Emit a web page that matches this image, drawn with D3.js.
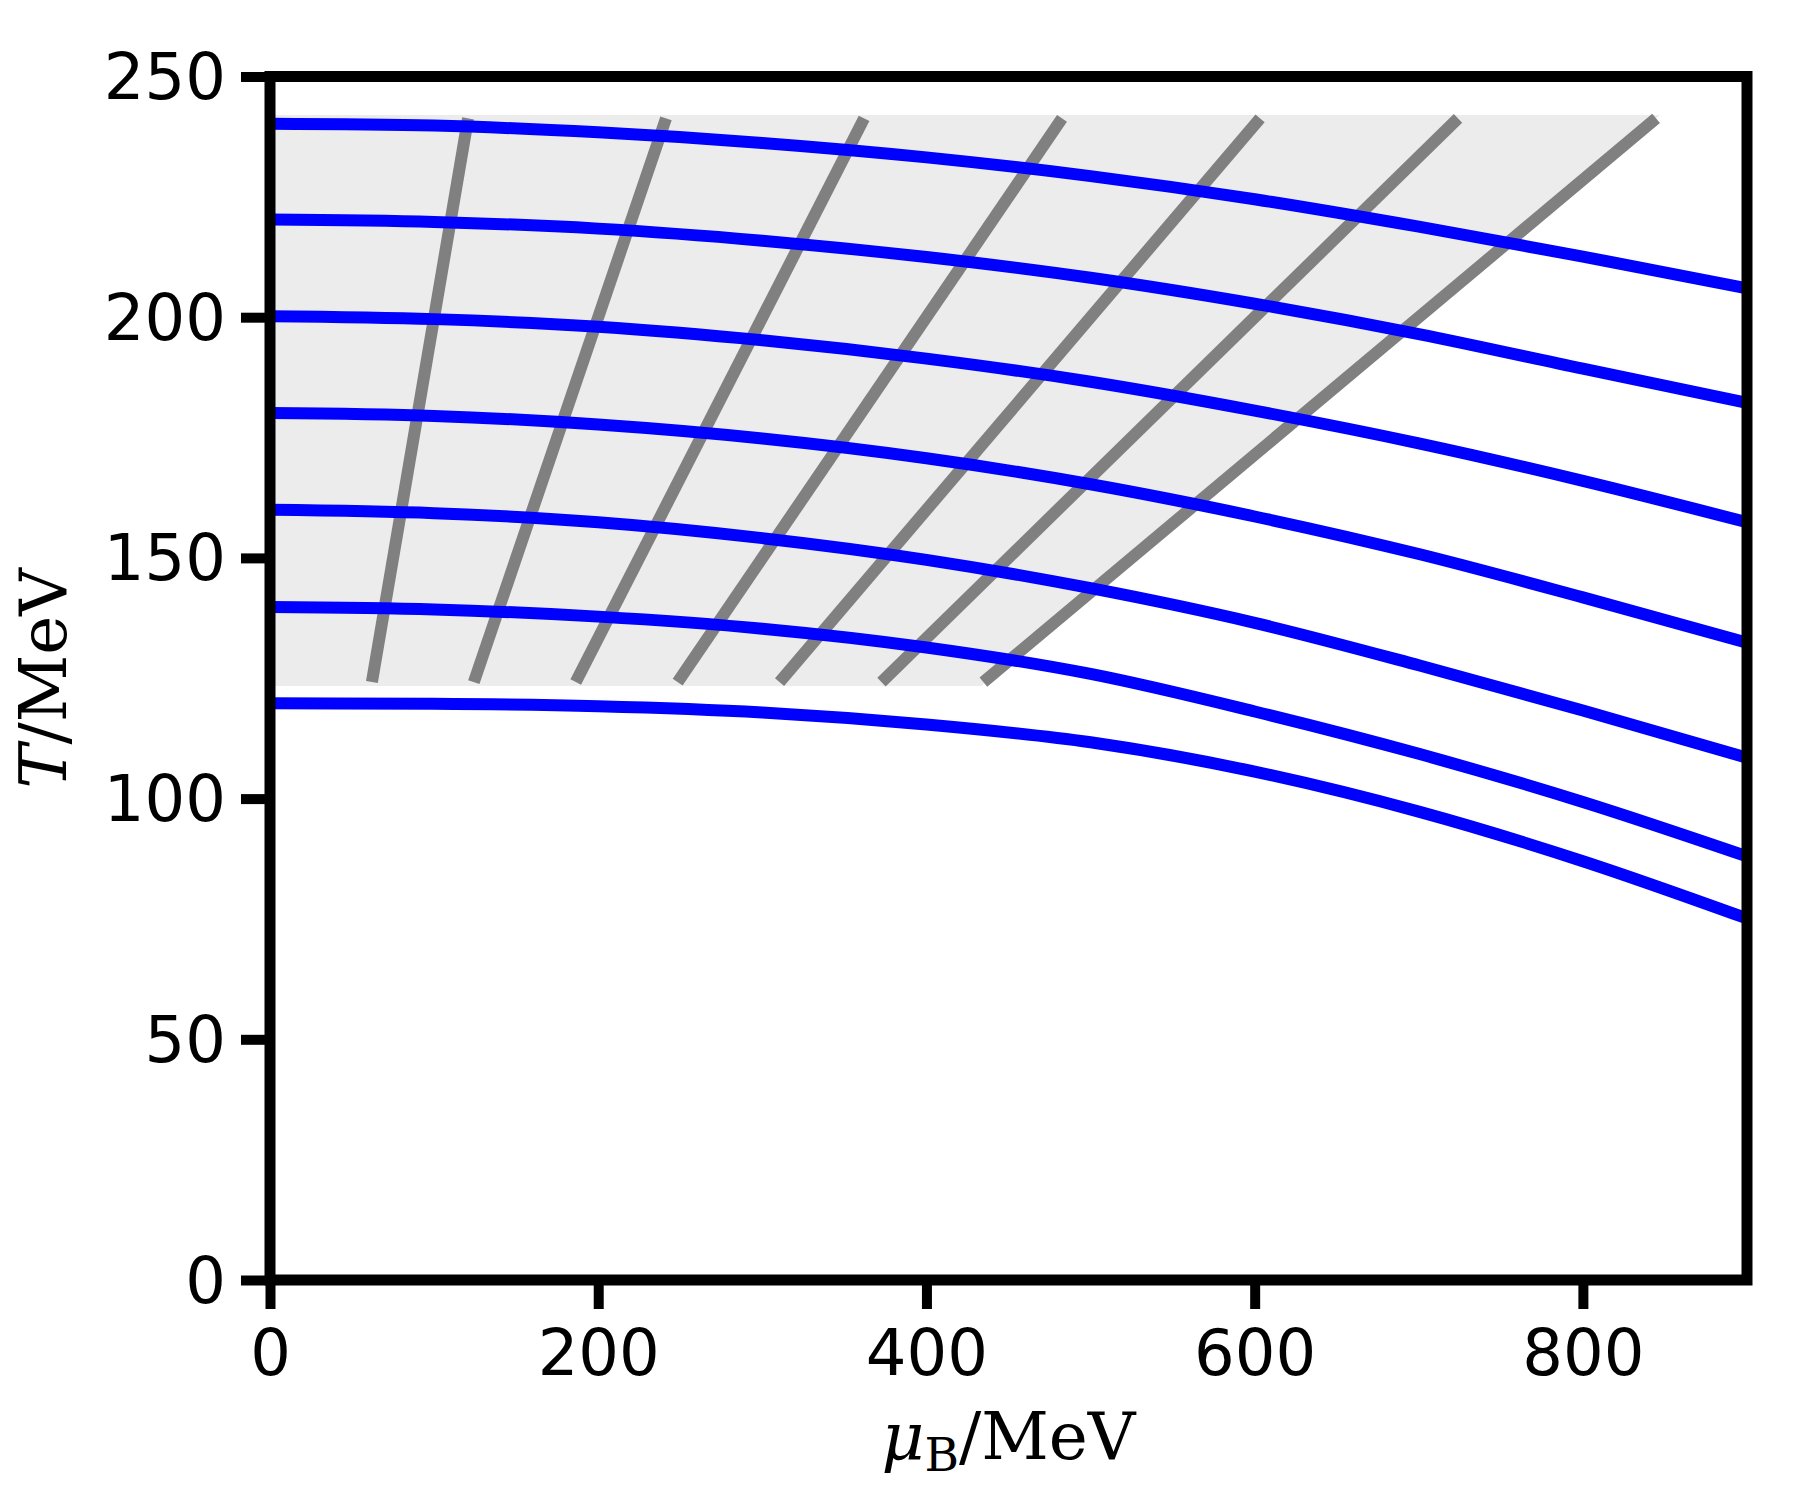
<!DOCTYPE html>
<html><head><meta charset="utf-8">
<script src="https://cdn.jsdelivr.net/npm/d3@7"></script>
<style>body{margin:0;background:#fff}</style>
</head><body>
<svg id="c" width="1800" height="1491" xmlns="http://www.w3.org/2000/svg"></svg>
<script>
// ---- data ----
const muGrid   = [0, 100, 200, 300, 400, 500, 600, 700, 800, 900];
const curveT240 = [240.2, 239.8, 238.4, 236.2, 233.2, 229.3, 224.5, 218.8, 212.6, 206.0];
const curveT220 = [220.3, 219.8, 218.4, 215.9, 212.5, 208.2, 202.8, 196.5, 189.3, 182.2];
const curveT200 = [200.2, 199.6, 198.0, 195.2, 191.4, 186.6, 180.6, 173.8, 166.0, 157.4];
const curveT180 = [180.1, 179.5, 177.7, 174.8, 170.7, 165.3, 158.6, 150.8, 141.8, 132.4];
const curveT160 = [160.0, 159.3, 157.4, 154.1, 149.6, 143.7, 136.5, 127.7, 118.3, 108.5];
const curveT140 = [139.8, 139.3, 137.8, 135.3, 131.4, 125.9, 118.1, 109.3, 99.3, 88.0];
const curveT120 = [119.8, 119.7, 119.2, 117.9, 115.4, 111.7, 105.6, 97.3, 87.0, 75.1];
const blueCurves = [curveT240, curveT220, curveT200, curveT180, curveT160, curveT140, curveT120];

// grey lines: [ [mu_top, T_top], [mu_bottom, T_bottom] ]
const greyLine1 = [[120.7, 241.3], [62.1, 124.2]];
const greyLine2 = [[241.3, 241.3], [124.2, 124.2]];
const greyLine3 = [[362.0, 241.3], [186.3, 124.2]];
const greyLine4 = [[482.6, 241.3], [248.4, 124.2]];
const greyLine5 = [[603.3, 241.3], [310.5, 124.2]];
const greyLine6 = [[723.9, 241.3], [372.6, 124.2]];
const greyLine7 = [[844.6, 241.3], [434.7, 124.2]];
const greyLines = [greyLine1, greyLine2, greyLine3, greyLine4, greyLine5, greyLine6, greyLine7];

// shaded band
const shadePoly = [[0, 242.0], [847.0, 242.0], [433.5, 123.4], [0, 123.4]];

const xTicks = [0, 200, 400, 600, 800];
const yTicks = [0, 50, 100, 150, 200, 250];
const xDomain = [0, 900];
const yDomain = [0, 250];

// ---- layout ----
const L = 270, R = 1747, T = 76.5, B = 1280;
const svg = d3.select('#c');
const x = d3.scaleLinear().domain(xDomain).range([L, R]);
const y = d3.scaleLinear().domain(yDomain).range([B, T]);

svg.append('defs').append('clipPath').attr('id', 'clip')
  .append('rect').attr('x', L).attr('y', T).attr('width', R - L).attr('height', B - T);

const plot = svg.append('g').attr('clip-path', 'url(#clip)');

// shading
plot.append('path')
  .attr('d', d3.line().x(d => x(d[0])).y(d => y(d[1]))(shadePoly) + 'Z')
  .attr('fill', '#ececec').attr('stroke', 'none');

// grey lines
plot.selectAll('.grey').data(greyLines).enter().append('path')
  .attr('d', d => d3.line().x(p => x(p[0])).y(p => y(p[1]))(d))
  .attr('fill', 'none').attr('stroke', '#808080').attr('stroke-width', 12)
  .attr('stroke-linecap', 'butt');

// blue curves
const blueLine = d3.line().x((d, i) => x(muGrid[i])).y(d => y(d)).curve(d3.curveMonotoneX);
plot.selectAll('.blue').data(blueCurves).enter().append('path')
  .attr('d', d => blueLine(d))
  .attr('fill', 'none').attr('stroke', '#0000ff').attr('stroke-width', 12)
  .attr('stroke-linejoin', 'round');

// axes
const tickLen = 29, tickW = 10;
const xAxis = d3.axisBottom(x).tickValues(xTicks).tickSize(tickLen).tickPadding(18).tickFormat(d3.format('d'));
const yAxis = d3.axisLeft(y).tickValues(yTicks).tickSize(tickLen).tickPadding(18).tickFormat(d3.format('d'));

const gx = svg.append('g').attr('transform', `translate(0,${B})`).call(xAxis);
const gy = svg.append('g').attr('transform', `translate(${L},0)`).call(yAxis);
[gx, gy].forEach(g => {
  g.select('.domain').remove();
  g.selectAll('.tick line').attr('stroke', '#000').attr('stroke-width', tickW);
  g.selectAll('.tick text').attr('fill', '#000')
    .style('font-family', '"DejaVu Sans", sans-serif').style('font-size', '64px');
});
gx.selectAll('.tick text').attr('dy', null).attr('y', tickLen + 19)
  .attr('dominant-baseline', 'hanging');
gy.selectAll('.tick text').attr('dy', null).attr('x', -(tickLen + 15))
  .attr('dominant-baseline', 'central');

// spines
svg.append('rect').attr('x', L).attr('y', T).attr('width', R - L).attr('height', B - T)
  .attr('fill', 'none').attr('stroke', '#000').attr('stroke-width', 11);

// axis labels
const xl = svg.append('text').attr('x', (L + R) / 2).attr('y', 1459)
  .attr('text-anchor', 'middle')
  .style('font-family', '"DejaVu Serif", serif').style('font-size', '66px').attr('fill', '#000');
xl.append('tspan').style('font-style', 'italic').text('μ');
xl.append('tspan').style('font-size', '47px').attr('dy', 12).text('B');
xl.append('tspan').attr('dy', -12).text('/MeV');

const yl = svg.append('text')
  .attr('transform', `translate(66,${(T + B) / 2}) rotate(-90)`)
  .attr('text-anchor', 'middle')
  .style('font-family', '"DejaVu Serif", serif').style('font-size', '66px').attr('fill', '#000');
yl.append('tspan').style('font-style', 'italic').text('T');
yl.append('tspan').text('/MeV');
</script>
</body></html>
